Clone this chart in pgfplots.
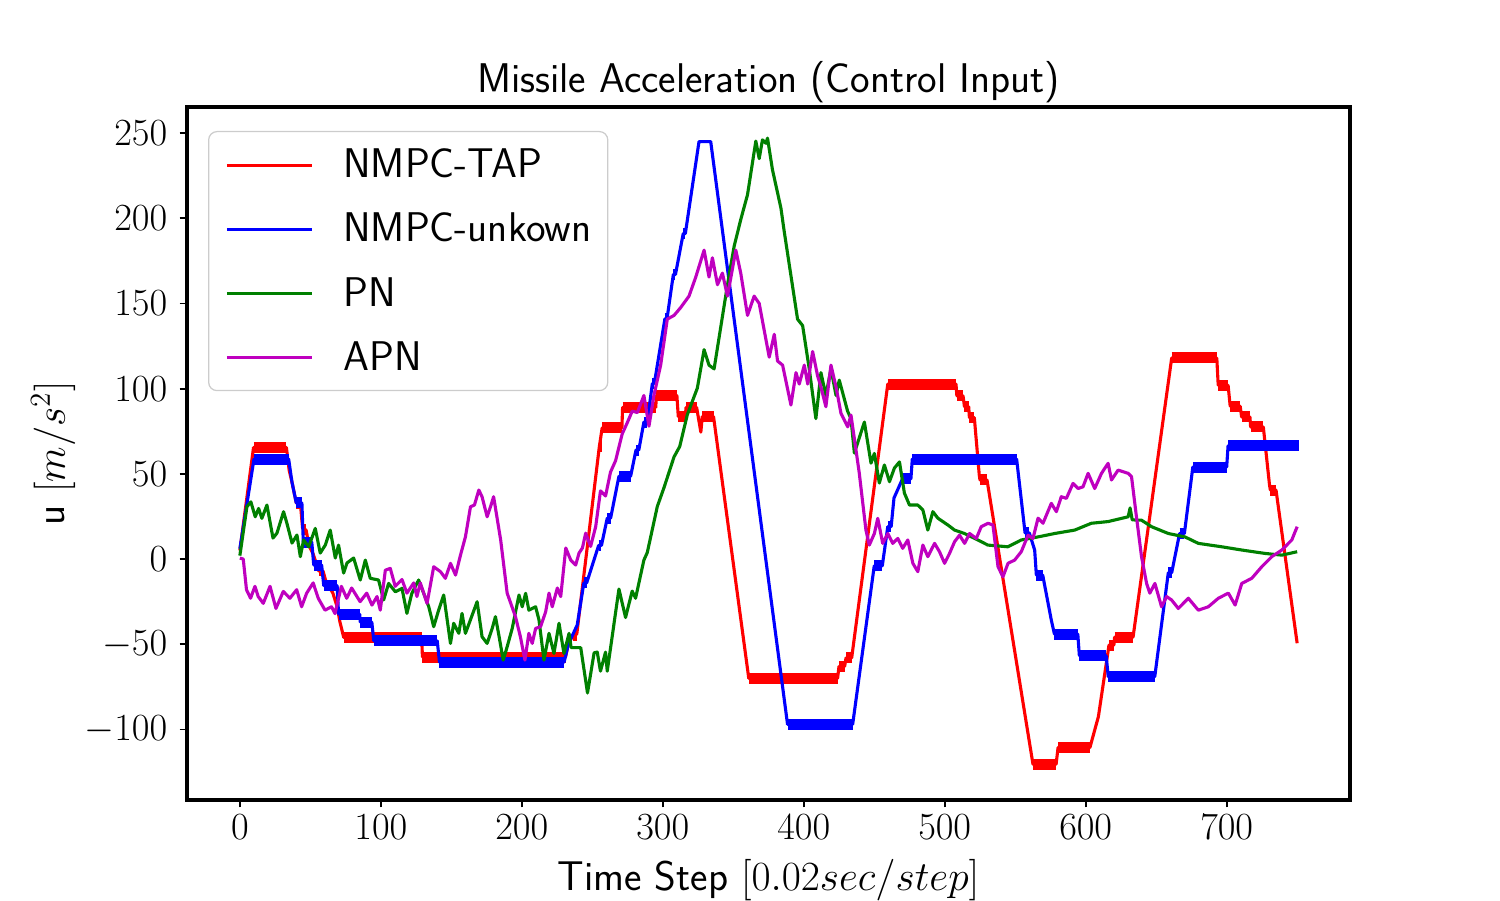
\RequirePackage{fix-cm}
\documentclass[border=0pt]{standalone}
\usepackage{pgfplots}
\pgfplotsset{compat=1.18}
\definecolor{mplred}{RGB}{255,0,0}
\definecolor{mplblue}{RGB}{0,0,255}
\definecolor{mplgreen}{RGB}{0,128,0}
\definecolor{mplmag}{RGB}{191,0,191}
\newcommand\fs{\fontsize{20}{24}\selectfont}
\newcommand\fst{\fontsize{18.5}{22}\selectfont}
\begin{document}
\begin{tikzpicture}
\useasboundingbox (0,0) rectangle (720bp,432bp);
\begin{axis}[
  at={(89.76bp,48bp)}, anchor=south west,
  width=558.24bp, height=332.64bp, scale only axis,
  xmin=-37.5, xmax=787.5, ymin=-141.4, ymax=265.3,
  xtick={0,100,...,700}, ytick={-100,-50,0,50,100,150,200,250},
  xtick pos=bottom, ytick pos=left,
  tick align=outside, major tick length=3.6bp,
  every tick/.style={black, line width=0.9pt},
  axis line style={line width=1.9pt},
  tick label style={font=\fst},
  yticklabel style={xshift=-2.4bp},
  every axis title shift=0pt,
  title={Missile Acceleration (Control Input)},
  title style={font=\fs\sffamily, at={(0.5,1.0216)}, anchor=base, inner sep=0pt},
  xlabel={Time Step $[0.02sec/step]$},
  xlabel style={font=\fs\sffamily, at={(0.5,-0.130)}, anchor=base, inner sep=0pt},
  ylabel={u $[m/s^2]$},
  ylabel style={font=\fs\sffamily, at={(-0.105,0.5)}, anchor=base, inner sep=0pt},
  legend style={at={(0.0181,0.9654)}, anchor=north west, draw=black!20, line width=0.6pt,
    rounded corners=4bp, fill=white, fill opacity=0.8, text opacity=1,
    inner xsep=8bp, inner ysep=2.4bp, font=\fs\sffamily, row sep=3.4bp,
    nodes={inner xsep=0pt, inner ysep=6bp},
    /tikz/every odd column/.append style={column sep=14.4bp}},
  legend cell align=left,
  legend image code/.code={\draw[#1, line width=1.5pt] (0bp,0bp) -- (40.8bp,0bp);},
  unbounded coords=jump,
  every axis plot/.append style={line width=1.5pt, line join=round},
]
% NMPC-TAP
\addplot[mplred] coordinates {
(0,5) (9.7,65.5) (33,65.5) (35,52) (37,45) (40,33) (43,32) (44.5,18) (47,17) (49,8) (52,3) (56,-7) (59,-7) (61,-13) (66,-20) (69,-28) (71,-37) (73.7,-46) (129,-46) (129.5,-57.5) (231,-57.5) (233,-50) (236,-45) (239,-44) (255,66) (257,77) (271,77) (271.5,89) (295,89) (295.5,96) (310,96) (311,83.6) (316,83.6) (316.5,89) (324,89) (327,74.5) (328,83.6) (336,83.6) (361,-70) (424,-70) (425,-63) (429,-63) (430,-58) (434,-58) (459.6,102.7) (508,102.7) (508.6,95.8) (513,95.8) (514,89.4) (517,89.4) (517.5,83) (521,83) (524.5,49.3) (525,46.4) (530,46.4) (562.6,-120.4) (579,-120.4) (580.4,-110.6) (603,-110.6) (609,-92.5) (616,-53.4) (616.5,-50.5) (620,-50.5) (620.5,-45.8) (633.6,-45.8) (661,118) (693,118) (694,102) (701,102) (702.5,89.7) (709.6,89.7) (710.6,83.4) (716.5,83.4) (717,77.5) (726,77.5) (730.4,43.4) (731,40.5) (735,40.5) (750,-49.4)
};
\addlegendentry{NMPC-TAP}
\addplot[mplred, line width=5.3pt, forget plot] coordinates {
(10,65.5) (33,65.5) (33,nan)
(40,32.5) (43,32.5) (43,nan)
(44.5,17.5) (47,17.5) (47,nan)
(56,-7) (59,-7) (59,nan)
(73.7,-46) (129,-46) (129,nan)
(129.5,-57.5) (231,-57.5) (231,nan)
(236,-45) (239,-45) (239,nan)
(255,66) (257,66) (257,nan)
(257,77) (271,77) (271,nan)
(271.5,89) (295,89) (295,nan)
(295.5,96) (310,96) (310,nan)
(311,83.6) (316,83.6) (316,nan)
(316.5,89) (324,89) (324,nan)
(328,83.6) (336,83.6) (336,nan)
(361,-70) (424,-70) (424,nan)
(425,-63) (429,-63) (429,nan)
(430,-58) (434,-58) (434,nan)
(459.6,102.7) (508,102.7) (508,nan)
(508.6,95.8) (513,95.8) (513,nan)
(514,89.4) (517,89.4) (517,nan)
(517.5,83) (521,83) (521,nan)
(525,46.4) (530,46.4) (530,nan)
(562.6,-120.4) (579,-120.4) (579,nan)
(580.4,-110.6) (603,-110.6) (603,nan)
(616.5,-50.5) (620,-50.5) (620,nan)
(620.5,-45.8) (633.6,-45.8) (633.6,nan)
(661,118) (693,118) (693,nan)
(694,102) (701,102) (701,nan)
(702.5,89.7) (709.6,89.7) (709.6,nan)
(710.6,83.4) (716.5,83.4) (716.5,nan)
(717,77.5) (726,77.5) (726,nan)
(731,40.5) (735,40.5)
};
% NMPC-unkown
\addplot[mplblue] coordinates {
(0,6) (10,58.7) (34.6,58.7) (37,45) (40,33) (44,33) (45,10) (51,10) (52.4,-3.5) (58,-3.5) (59.5,-15.6) (69,-15.6) (70,-32.3) (85,-32.3) (85.4,-37) (93.6,-37) (95,-48) (140,-48) (141.6,-60.5) (230,-60.5) (233,-50) (239.3,-38.7) (244,-14) (246,-14) (254.5,8) (256.5,8) (260.6,24) (263,24) (268.9,48.6) (277.2,48.6) (281,64) (283,64) (286.6,80.4) (289,80.4) (292.6,103) (294,103) (301.5,141) (303,141) (307.5,167) (309,167) (314.5,191) (316,191) (325.7,245) (334,245) (388.5,-97) (434.7,-97) (450,-4) (455.7,-4) (459.6,19) (462,19) (464,35.8) (470,47) (476,47) (477,58.7) (551,58.7) (557,15.3) (560,15.3) (563.8,5.3) (565,-9.4) (569.5,-9.4) (575.6,-35.8) (577.8,-44) (594.4,-44) (595.5,-56.7) (614.5,-56.7) (616,-69) (649,-69) (658.6,-8) (661,-8) (666.6,15) (670,15) (676,54) (700,54) (701,66.5) (751,66.5)
};
\addlegendentry{NMPC-unkown}
\addplot[mplblue, line width=5.3pt, forget plot] coordinates {
(10,58.7) (34.6,58.7) (34.6,nan)
(40,33) (44,33) (44,nan)
(45,10) (51,10) (51,nan)
(52.4,-3.5) (58,-3.5) (58,nan)
(59.5,-15.6) (69,-15.6) (69,nan)
(70,-32.3) (85,-32.3) (85,nan)
(85.4,-37) (93.6,-37) (93.6,nan)
(95,-48) (140,-48) (140,nan)
(141.6,-60.5) (230,-60.5) (230,nan)
(244,-14) (246,-14) (246,nan)
(254.5,8) (256.5,8) (256.5,nan)
(260.6,24) (263,24) (263,nan)
(268.9,48.6) (277.2,48.6) (277.2,nan)
(281,64) (283,64) (283,nan)
(286.6,80.4) (289,80.4) (289,nan)
(292.6,103) (294,103) (294,nan)
(301.5,141) (303,141) (303,nan)
(307.5,167) (309,167) (309,nan)
(314.5,191) (316,191) (316,nan)
(388.5,-97) (434.7,-97) (434.7,nan)
(450,-4) (455.7,-4) (455.7,nan)
(459.6,19) (462,19) (462,nan)
(470,47) (476,47) (476,nan)
(477,58.7) (551,58.7) (551,nan)
(557,15.3) (560,15.3) (560,nan)
(565,-9.4) (569.5,-9.4) (569.5,nan)
(577.8,-44) (594.4,-44) (594.4,nan)
(595.5,-56.7) (614.5,-56.7) (614.5,nan)
(616,-69) (649,-69) (649,nan)
(658.6,-8) (661,-8) (661,nan)
(666.6,15) (670,15) (670,nan)
(676,54) (700,54) (700,nan)
(701,66.5) (751,66.5)
};
% PN
\addplot[mplgreen] coordinates {
(0,2) (5,30.7) (7.8,33.6) (10.9,24.8) (13.3,29.7) (15.6,23.9) (19.2,31.7) (23.5,12.3) (26.3,15.2) (31,27.8) (33.4,20.9) (37,9.4) (40.5,14.1) (42.9,1.4) (45.2,11.2) (48.8,7.2) (53.5,18) (57,3.5) (60.6,8.2) (64.1,17) (67.7,0.6) (70,8.2) (73.6,-8.2) (76,-2.3) (80.7,0.6) (85.4,-12.3) (89,-0.6) (92.5,-11.3) (98.4,-12.3) (102,-24) (105.5,-14.3) (110.3,-19.2) (115,-17.2) (118.5,-31.9) (122,-20.1) (126.8,-12.3) (130.4,-20.1) (134,-28) (137.5,-39.7) (141,-30) (144.6,-21.1) (149.4,-49.5) (151.7,-37.7) (155.3,-43.6) (157.6,-31.9) (160,-43.6) (163.5,-35.8) (168.3,-25) (171.8,-45.6) (175.4,-49.5) (179,-40.7) (181.3,-33.8) (183.7,-44.6) (186.8,-59.3) (189.6,-51.5) (193.2,-40.7) (198,-21.1) (200.3,-28) (202.7,-20.1) (205,-30) (209.8,-28) (212.2,-35.8) (215.7,-59.3) (219.3,-43.6) (222.8,-55.4) (226.4,-37.7) (229.9,-55.4) (233.5,-43.6) (235,-52) (241.8,-52) (246.6,-78.6) (251.3,-55) (253.5,-54.6) (255.8,-65.8) (259.4,-54.6) (260.6,-65.8) (268.9,-17.6) (273.6,-34.3) (278.3,-18.8) (280.7,-23) (286.6,-0.6) (289,3.8) (296.1,30.8) (300.9,42) (308,60) (312,66) (317.4,84.7) (324.5,100.3) (329.3,122.9) (332.8,113.8) (336.4,111.6) (345.9,161) (350.6,183.5) (355.3,199.2) (360.1,213.8) (366,245.3) (368.4,235) (370.7,246) (373.1,244) (374.3,247) (377.8,228.5) (383.8,206) (386.1,192.5) (395.6,140.8) (399.2,137) (403.9,111.6) (408.6,82.4) (412.2,109.4) (415.7,96) (419.3,111.6) (422.9,96) (425.2,105) (431.1,86.8) (433.5,82.4) (435.9,62.2) (443,80.4) (447.7,56.3) (450.1,62) (453.6,44.6) (457.2,55.2) (460.8,45.4) (464.3,53.4) (467.9,57) (471.4,38.7) (475,31.7) (480.9,31.7) (484.5,28.8) (488,17) (491.6,27.8) (495.1,24) (502.2,20) (507,17) (514,15) (523.5,11.2) (530.6,8.2) (544.8,7.2) (554.3,11.2) (566.2,13) (578,15) (592.2,17) (604,21) (615.9,22) (630.1,24.8) (631.5,30) (633,23) (639.6,22.8) (646.7,19) (658.6,15) (670.4,13) (679.9,9.2) (696.5,7.2) (710.7,5.3) (727.2,3.3) (739.1,2.3) (750,4.3)
};
\addlegendentry{PN}
% APN
\addplot[mplmag] coordinates {
(0,0.6) (2.4,0) (4.7,-18) (7.6,-23) (10.7,-16) (13,-22) (16.6,-26) (21.4,-16) (25.6,-29) (30.8,-19) (35.5,-23) (40.3,-18) (43.8,-28) (47.4,-20) (52,-14) (55.6,-23) (60.4,-30) (65,-28) (67.5,-32) (72,-16) (75.8,-23) (79.3,-17) (85.3,-25) (90,-20) (93.7,-27) (97.3,-22) (99.6,-30) (103.2,-6.5) (106.7,-5.5) (110.2,-16) (115,-12) (118.5,-20) (123.3,-14) (125.6,-22) (128,-14) (132.8,-26) (137.5,-4.5) (142.3,-7.4) (145.8,-11.3) (149.4,-2.5) (153,-9.4) (156.5,2.3) (160,13) (163.6,30.7) (166.4,31.7) (169.5,40.5) (171.8,36.6) (175.4,24.8) (177.8,30.7) (180,36.6) (185,11.2) (189.6,-20) (195.5,-33.8) (199,-45.6) (202.2,-59.3) (205,-43.6) (207.4,-49.5) (209.8,-40.7) (213.3,-39.7) (216.9,-31) (219.3,-20) (221.6,-28) (225.2,-17) (227.6,-22) (231.2,6.5) (234.7,-0.6) (238.2,-3.5) (240.6,3.5) (243,6.5) (245.3,15.2) (248.8,7.4) (252.4,19) (255.8,40) (259.4,37) (262.9,51) (266.5,57.7) (271.2,73.4) (274.8,80) (278.3,86.8) (282,86) (286.6,96) (290.2,78) (293.7,96) (298.5,113.8) (303.2,140.8) (308,143) (312.7,147.6) (318.6,154.3) (323.4,165.5) (329.3,181.3) (332.8,165.5) (335.2,176.8) (338.8,161) (342.3,167.8) (345.9,154.3) (351.8,181.3) (355.3,167.8) (360.1,143) (364.8,154.3) (368.4,150) (372,134) (375.5,118.5) (379.1,131.9) (381.4,116.2) (385,113.8) (390.9,90.4) (394.5,109.4) (396.8,102.7) (400.4,113.8) (402.8,102.7) (406.3,121.8) (409.9,107.2) (412.2,101) (415.7,89.4) (419.3,113.8) (422.9,101) (426.4,85.5) (431.2,77.6) (433.5,84.5) (439.4,50.3) (444.1,17) (446.5,8.2) (450.1,15) (452.5,23.9) (456,9.2) (459.6,15) (463.1,9.2) (466.7,12.1) (470.2,6.3) (473.8,11.2) (477.4,-2.5) (480.9,-7.4) (484.5,8.2) (488,1.4) (492.8,9.2) (496.3,4.3) (499.9,-2.5) (503.4,3.3) (507,10.2) (510.5,14) (514.1,9.2) (517.6,15) (522.4,12.1) (525.9,19) (530.7,21) (534.2,20) (537.8,-4.5) (541.3,-10.4) (544.9,-2.5) (549.6,-0.6) (554.3,4.3) (559.1,14) (562.6,12.1) (566.2,24) (569.7,21) (575.6,32.7) (579.2,27.8) (582.7,36.6) (586.3,35.6) (591,44.4) (594.6,41.4) (598.1,42.4) (601.7,50.3) (606.4,41.4) (611.2,50.3) (615.9,56.2) (618.3,46.4) (623,52.2) (630.1,50.3) (632.5,48.4) (636,24.8) (639.6,1.4) (643.2,-14.3) (645.5,-20) (649.1,-14.3) (653.8,-28) (657.4,-22) (660.9,-24) (665.7,-29) (672.8,-23) (679.9,-30) (687,-28) (694.1,-23) (701.2,-20) (706,-27) (710.7,-14.3) (717.8,-11.3) (724.9,-4.5) (732,1.4) (739.1,5.3) (746.2,11.2) (750,19)
};
\addlegendentry{APN}
\end{axis}
\end{tikzpicture}
\end{document}
